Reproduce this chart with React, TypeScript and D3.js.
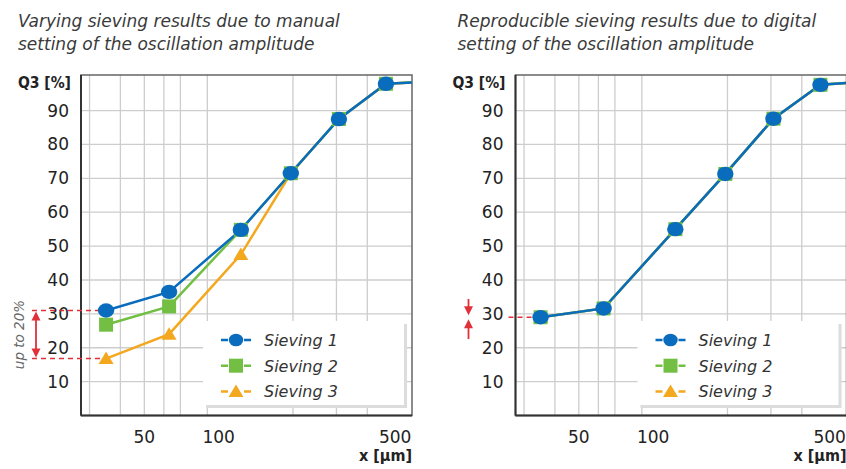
import React from "react";
import * as d3 from "d3";

const sieveSizes = [35, 63, 123, 196, 307, 476, 800];
const leftSieving1 = [31, 36.5, 54.8, 71.5, 87.5, 97.9, 98.8];
const leftSieving2 = [26.8, 32.2, 54.8, 71.5, 87.5, 97.9, 98.8];
const leftSieving3 = [16.8, 24, 47.5, 71.5, 87.5, 97.9, 98.8];
const rightSieving1 = [29, 31.6, 55, 71.3, 87.6, 97.6, 98.7];
const rightSieving2 = [29, 31.6, 55, 71.3, 87.6, 97.6, 98.7];
const rightSieving3 = [29, 31.6, 55, 71.3, 87.6, 97.6, 98.7];

const yTicks = [10, 20, 30, 40, 50, 60, 70, 80, 90];
const xTickLabels = [50, 100, 500];
const xGridValues = [30, 40, 50, 60, 70, 90, 200, 300, 400];
const seriesNames = ["Sieving 1", "Sieving 2", "Sieving 3"];
const seriesColors = ["#0a6cbd", "#72bf44", "#f3a81f"];

const titlesLeft = ["Varying sieving results due to manual", "setting of the oscillation amplitude"];
const titlesRight = ["Reproducible sieving results due to digital", "setting of the oscillation amplitude"];

const FONT = "'DejaVu Sans', Verdana, sans-serif";
const COND = "'DejaVu Sans Condensed', 'Liberation Sans Narrow', 'DejaVu Sans', sans-serif";
const W = 331;
const TOP = 75;
const BOTTOM = 415.5;

function Marker({ kind, x, y, color, big }: { kind: number; x: number; y: number; color: string; big?: boolean }) {
  if (kind === 0) return <ellipse cx={x} cy={y} rx={big ? 8.2 : 7.2} ry={big ? 7.2 : 6.3} fill={color} />;
  if (kind === 1) return <rect x={x - 7} y={y - 7} width={14} height={14} fill={color} />;
  return <path d={`M${x},${y - 7} L${x + 7.5},${y + 5.5} L${x - 7.5},${y + 5.5} Z`} fill={color} />;
}

function Panel({ left, titles, series, annotation }: { left: number; titles: string[]; series: number[][]; annotation: "left" | "right" }) {
  const x = d3.scaleLog().domain([27.7, 607]).range([left, left + W]);
  const y = d3.scaleLinear().domain([0, 100.5]).range([BOTTOM, TOP]);
  const line = d3
    .line<number>()
    .x((_, i) => x(sieveSizes[i]))
    .y((d) => y(d));
  const clipId = `clip-${annotation}`;
  const legX = left + 122;
  const legY = 321;
  const order = [2, 1, 0];
  const red = "#e0303a";
  return (
    <g>
      <defs>
        <clipPath id={clipId}>
          <rect x={left} y={TOP} width={W} height={BOTTOM - TOP} />
        </clipPath>
      </defs>
      {titles.map((t, i) => (
        <text key={i} x={annotation === "left" ? 18 : left - 58} y={27 + i * 23} fontFamily={FONT} fontStyle="italic" fontSize={17} fill="#3a3a3a">
          {t}
        </text>
      ))}
      {/* grid */}
      {yTicks.map((v) => (
        <line key={"h" + v} x1={left} x2={left + W} y1={y(v)} y2={y(v)} stroke="#cdcdcd" strokeWidth={1.3} />
      ))}
      {xGridValues.map((v) => (
        <line key={"v" + v} x1={x(v)} x2={x(v)} y1={TOP} y2={BOTTOM} stroke="#cdcdcd" strokeWidth={1.3} />
      ))}
      {/* frame */}
      <rect x={left} y={TOP} width={W} height={BOTTOM - TOP} fill="none" stroke="#666" strokeWidth={1.5} />
      <line x1={left} x2={left} y1={TOP} y2={BOTTOM} stroke="#333" strokeWidth={2} />
      <line x1={left} x2={left + W} y1={BOTTOM} y2={BOTTOM} stroke="#333" strokeWidth={2} />
      {/* y tick labels */}
      {yTicks.map((v) => (
        <text key={"yt" + v} x={left - 12} y={y(v) + 6} textAnchor="end" fontFamily={FONT} fontSize={17} fill="#222">
          {v}
        </text>
      ))}
      <text x={left - 10} y={87.5} textAnchor="end" fontFamily={COND} fontWeight="bold" fontSize={15.5} fill="#222">
        Q3 [%]
      </text>
      {xTickLabels.map((v) => (
        <text key={"xt" + v} x={x(v) + (v === 500 ? 4 : 0)} y={443} textAnchor="middle" fontFamily={FONT} fontSize={17} fill="#222">
          {v}
        </text>
      ))}
      <text x={left + W} y={461} textAnchor="end" fontFamily={COND} fontWeight="bold" fontSize={16} fill="#222">
        x [µm]
      </text>
      {/* legend */}
      <rect x={legX + 3} y={legY + 3} width={201} height={84} fill="#dcdcdc" />
      <rect x={legX} y={legY} width={201} height={84} fill="#fff" />
      {seriesNames.map((name, i) => {
        const ly = legY + 19 + i * 25.7;
        return (
          <g key={name}>
            <line x1={legX + 18} x2={legX + 48} y1={ly} y2={ly} stroke={seriesColors[i]} strokeWidth={2.5} strokeDasharray="7 16" />
            <Marker kind={i} x={legX + 33} y={ly} color={seriesColors[i]} />
            <text x={legX + 61} y={ly + 6} fontFamily={FONT} fontStyle="italic" fontSize={16} fill="#333">
              {name}
            </text>
          </g>
        );
      })}
      {/* annotation */}
      {annotation === "left" ? (
        <g>
          <line x1={32} x2={x(sieveSizes[0])} y1={y(series[0][0])} y2={y(series[0][0])} stroke={red} strokeWidth={1.5} strokeDasharray="5 4" />
          <line x1={32} x2={x(sieveSizes[0])} y1={y(series[2][0])} y2={y(series[2][0])} stroke={red} strokeWidth={1.5} strokeDasharray="5 4" />
          <line x1={36} x2={36} y1={y(series[0][0]) + 6} y2={y(series[2][0]) - 6} stroke={red} strokeWidth={1.8} />
          <path d={`M36,${y(series[0][0]) + 1} l4.5,9 l-9,0 Z`} fill={red} />
          <path d={`M36,${y(series[2][0]) - 1} l4.5,-9 l-9,0 Z`} fill={red} />
          <text transform={`translate(24,${(y(series[0][0]) + y(series[2][0])) / 2}) rotate(-90)`} textAnchor="middle" fontFamily={FONT} fontStyle="italic" fontSize={13.5} fill="#666">
            up to 20%
          </text>
        </g>
      ) : (
        <g>
          <line x1={left - 7} x2={x(sieveSizes[0]) - 6} y1={y(series[0][0])} y2={y(series[0][0])} stroke={red} strokeWidth={1.5} strokeDasharray="5 4" />
          <line x1={left - 47} x2={left - 47} y1={299} y2={y(series[0][0]) - 6} stroke={red} strokeWidth={1.8} />
          <path d={`M${left - 47},${y(series[0][0]) - 2} l4.5,-9 l-9,0 Z`} fill={red} />
          <line x1={left - 47} x2={left - 47} y1={y(series[0][0]) + 6} y2={339} stroke={red} strokeWidth={1.8} />
          <path d={`M${left - 47},${y(series[0][0]) + 2} l4.5,9 l-9,0 Z`} fill={red} />
        </g>
      )}
      {/* series */}
      <g clipPath={`url(#${clipId})`}>
        {order.map((s) => (
          <path key={"l" + s} d={line(series[s]) || ""} fill="none" stroke={seriesColors[s]} strokeWidth={2.5} />
        ))}
        {order.map((s) =>
          series[s].map((v, i) => <Marker key={`m${s}-${i}`} kind={s} x={x(sieveSizes[i])} y={y(v)} color={seriesColors[s]} big />)
        )}
      </g>
    </g>
  );
}

export default function App() {
  return (
    <div style={{ position: "absolute", left: 0, top: 0 }}>
      <svg width={846} height={469} style={{ display: "block", background: "#fff" }}>
        <Panel left={81} titles={titlesLeft} series={[leftSieving1, leftSieving2, leftSieving3]} annotation="left" />
        <Panel left={515.5} titles={titlesRight} series={[rightSieving1, rightSieving2, rightSieving3]} annotation="right" />
      </svg>
    </div>
  );
}
